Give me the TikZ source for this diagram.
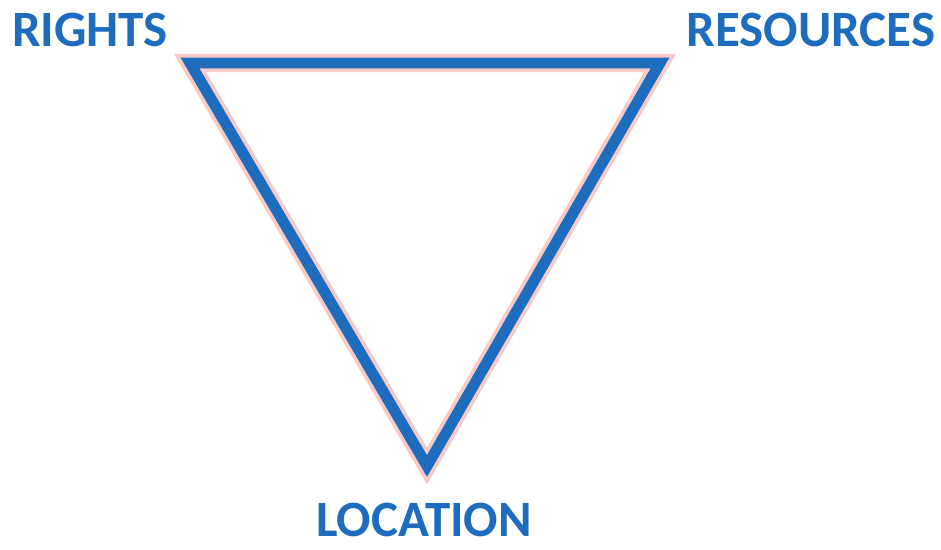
\documentclass[tikz,border=0pt]{standalone}
\usepackage{fontspec}
\setmainfont{Carlito}
\usepackage{tikz}
\usetikzlibrary{calc}

\definecolor{triblue}{RGB}{30,108,190}
\definecolor{glow}{RGB}{240,150,140}

\begin{document}
\begin{tikzpicture}[
  x=0.02cm, y=-0.02cm,
  lbl/.style={text=triblue, font=\bfseries\fontsize{29}{30}\selectfont,
              inner sep=0pt, anchor=base},
  edge/.style={draw=triblue, line width=6.2pt, line join=miter},
  halo/.style={draw=glow, line width=10.5pt, line join=miter, opacity=0.5}
]
\useasboundingbox (0,0) rectangle (941,549);

%% Corners
\coordinate (tl) at (190,63);
\coordinate (tr) at (660,63);
\coordinate (bt) at (427,466);

%% Triangle
\draw[halo] (tl) -- (tr) -- (bt) -- cycle;
\draw[edge] (tl) -- (tr) -- (bt) -- cycle;

%% Labels
\node[lbl] at (90,46)  (rights)    {RIGHTS};
\node[lbl] at (811,46) (resources) {RESOURCES};
\node[lbl] at (424,536) (location) {LOCATION};
\end{tikzpicture}
\end{document}
